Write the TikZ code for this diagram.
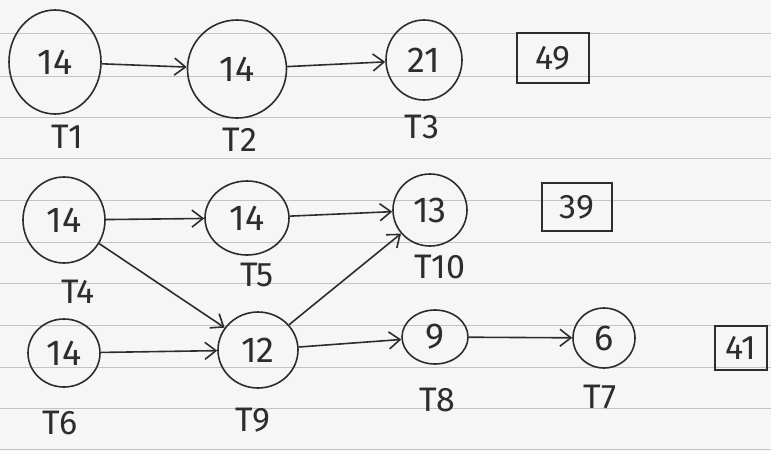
\documentclass[tikz,border=0pt]{standalone}
\usepackage{fontspec}
\setmainfont{Fira Sans}
\usetikzlibrary{shapes.geometric,arrows.meta}
\definecolor{paper}{RGB}{246,246,246}
\definecolor{rule}{RGB}{195,195,195}
\definecolor{ink}{RGB}{45,45,45}
\tikzset{
  ruled/.style={draw=rule, line width=1pt},
  task/.style={ellipse, draw=ink, line width=1.6pt, inner sep=0pt, text=ink,
    font=\fontsize{36}{40}\selectfont},
  lbl/.style={text=ink, inner sep=0pt, font=\fontsize{34}{38}\selectfont},
  total/.style={rectangle, draw=ink, line width=1.6pt, text=ink, inner sep=0pt,
    font=\fontsize{34}{38}\selectfont},
  arr/.style={draw=ink, line width=1.6pt, -{Straight Barb[length=11pt,width=17pt,line width=1.6pt]}}
}
\begin{document}
\begin{tikzpicture}[x=1pt,y=-1pt]
\fill[paper] (0,0) rectangle (771,451);
\useasboundingbox (0,0) rectangle (771,451);
\foreach \yy in {33,76,117,158,200,242,283,325,367,408,449}
  \draw[ruled] (0,\yy) -- (771,\yy);

% row 1
\node[task, minimum width=92pt, minimum height=104pt] (n1) at (55,62) {14};
\node[task, minimum width=99pt, minimum height=98pt] (n2) at (237,69) {14};
\node[task, minimum width=76pt, minimum height=80pt] (n3) at (424,60) {21};
\node[lbl] (l1) at (67,137) {T1};
\node[lbl] (l2) at (240,140) {T2};
\node[lbl] (l3) at (422,127) {T3};
\node[total, minimum width=72pt, minimum height=50pt] (b1) at (553,58) {49};
\draw[arr] (n1) -- (n2);
\draw[arr] (n2) -- (n3);

% rows 2 and 3
\node[task, minimum width=82pt, minimum height=86pt] (n4) at (64,220) {14};
\node[task, minimum width=84pt, minimum height=74pt] (n5) at (247,218) {14};
\node[task, minimum width=74pt, minimum height=72pt] (n10) at (430,210) {13};
\node[task, minimum width=72pt, minimum height=68pt] (n6) at (64,353) {14};
\node[task, minimum width=80pt, minimum height=76pt] (n9) at (258,350) {12};
\node[task, minimum width=66pt, minimum height=54pt] (n8) at (435,337) {9};
\node[task, minimum width=62pt, minimum height=60pt] (n7) at (604,338) {6};

\node[lbl] (l4) at (78,292) {T4};
\node[lbl] (l5) at (257,275) {T5};
\node[lbl] (l10) at (440,267) {T10};
\node[lbl] (l6) at (60,423) {T6};
\node[lbl] (l9) at (253,420) {T9};
\node[lbl] (l8) at (437,400) {T8};
\node[lbl] (l7) at (600,397) {T7};

\node[total, minimum width=70pt, minimum height=48pt] (b2) at (577,207) {39};
\node[total, minimum width=52pt, minimum height=44pt] (b3) at (741,348) {41};

\draw[arr] (n4) -- (n5);
\draw[arr] (n5) -- (n10);
\draw[arr] (n4) -- (n9);
\draw[arr] (n6) -- (n9);
\draw[arr] (n9) -- (n10);
\draw[arr] (n9) -- (n8);
\draw[arr] (n8) -- (n7);
\end{tikzpicture}
\end{document}
